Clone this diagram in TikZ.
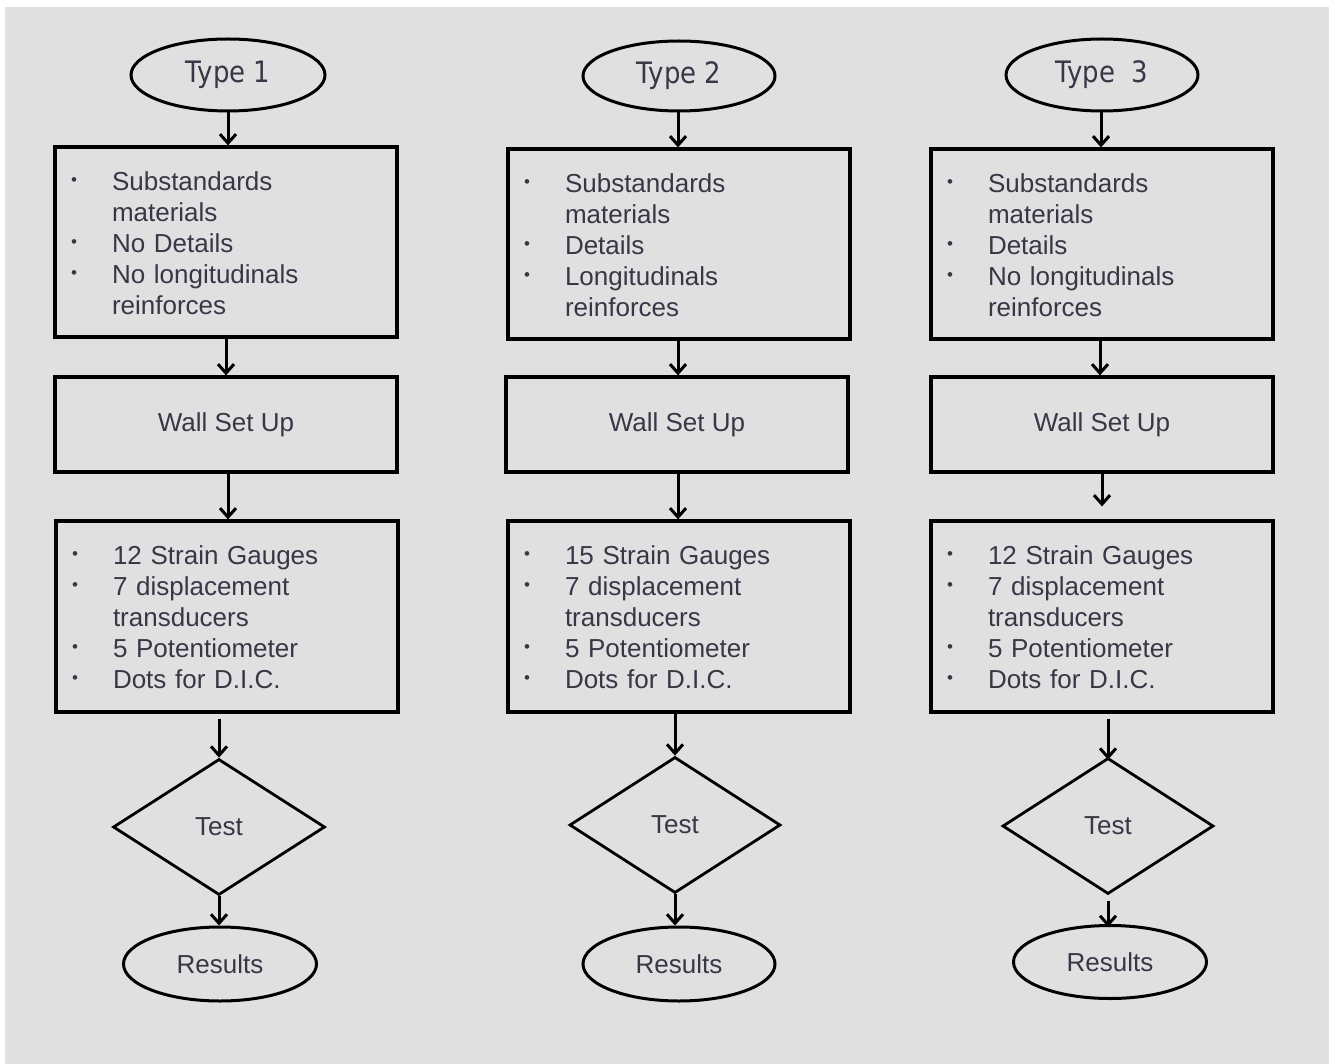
\documentclass[tikz,border=0pt]{standalone}
\usepackage{fontspec}
\setmainfont{Liberation Sans}
\newfontfamily\titlefont[FakeStretch=0.88]{DejaVu Sans}
\usetikzlibrary{shapes.geometric,arrows.meta}
\definecolor{bggray}{RGB}{224,224,224}
\definecolor{txtgray}{RGB}{55,55,70}
\newcommand{\bul}{\raisebox{5pt}{\fontsize{17}{17}\selectfont\textbullet}}
\newcommand{\firstrow}{\rule{0pt}{29.7pt}}
\tikzset{
  start/.style={ellipse,draw,line width=3pt,minimum width=194pt,minimum height=72pt,inner sep=0pt,
    font=\titlefont\fontsize{29.5}{34}\selectfont},
  stop/.style={ellipse,draw,line width=3pt,minimum width=193pt,minimum height=74pt,inner sep=0pt},
  listbox/.style={rectangle,draw,line width=3.2pt,minimum width=342pt,minimum height=190pt,
    text width=310pt,inner xsep=15pt,align=left},
  setbox/.style={rectangle,draw,line width=3.2pt,minimum width=342pt,minimum height=95pt},
  decide/.style={diamond,draw,line width=2.8pt,minimum width=212pt,minimum height=136pt,inner sep=0pt},
  flow/.style={line width=3pt,-{Straight Barb[length=9pt,width=16pt]}}
}
\begin{document}
\begin{tikzpicture}[x=1pt,y=-1pt,text=txtgray,font=\fontsize{26}{31}\selectfont]
\useasboundingbox (0,0) rectangle (1335,1064);
\fill[white] (0,0) rectangle (1335,1064);
\fill[bggray] (5,7) rectangle (1329,1064);
% column 1
\node[start] (t1) at (228,75) {Type 1};
\node[listbox] (b1) at (226,242) {\begin{tabular}{@{}p{41pt}@{}l@{}}
  \bul & \firstrow Substandards\\ & materials\\ \bul & No Details\\ \bul & No longitudinals\\ & reinforces
  \end{tabular}};
\node[setbox] (w1) at (226,424.5) {Wall Set Up};
\node[listbox,minimum height=191pt] (i1) at (227,616.5) {\begin{tabular}{@{}p{41pt}@{}l@{}}
  \bul & \firstrow 12 Strain Gauges\\ \bul & 7 displacement\\ & transducers\\ \bul & 5 Potentiometer\\ \bul & Dots for D.I.C.
  \end{tabular}};
\node[decide] (d1) at (219,827) {Test};
\node[stop] (r1) at (220,964) {Results};
\draw[flow] (t1.south) -- (t1.south |- b1.north);
\draw[flow] (b1.south) -- (w1.north);
\draw[flow] ([xshift=2pt]w1.south) -- ([xshift=2pt]w1.south |- i1.north);
\draw[flow] ([yshift=-5pt]d1.north |- i1.south) -- (d1.north);
\draw[flow] (d1.south) -- (d1.south |- r1.north);
% column 2
\node[start,minimum width=192pt,minimum height=70pt] (t2) at (679,76) {Type 2};
\node[listbox] (b2) at (679,244) {\begin{tabular}{@{}p{41pt}@{}l@{}}
  \bul & \firstrow Substandards\\ & materials\\ \bul & Details\\ \bul & Longitudinals\\ & reinforces
  \end{tabular}};
\node[setbox] (w2) at (677,424.5) {Wall Set Up};
\node[listbox,minimum height=191pt] (i2) at (679,616.5) {\begin{tabular}{@{}p{41pt}@{}l@{}}
  \bul & \firstrow 15 Strain Gauges\\ \bul & 7 displacement\\ & transducers\\ \bul & 5 Potentiometer\\ \bul & Dots for D.I.C.
  \end{tabular}};
\node[decide,minimum width=211pt] (d2) at (675,825) {Test};
\node[stop,minimum width=192pt] (r2) at (679,964) {Results};
\draw[flow] ([xshift=-1pt]t2.south) -- ([xshift=-1pt]t2.south |- b2.north);
\draw[flow] ([xshift=1pt]w2.north |- b2.south) -- ([xshift=1pt]w2.north);
\draw[flow] ([xshift=1pt]w2.south) -- ([xshift=1pt]w2.south |- i2.north);
\draw[flow] (d2.north |- i2.south) -- (d2.north);
\draw[flow] (d2.south) -- (d2.south |- r2.north);
% column 3
\node[start,minimum width=192pt] (t3) at (1102,75) {Type~~3};
\node[listbox] (b3) at (1102,244) {\begin{tabular}{@{}p{41pt}@{}l@{}}
  \bul & \firstrow Substandards\\ & materials\\ \bul & Details\\ \bul & No longitudinals\\ & reinforces
  \end{tabular}};
\node[setbox] (w3) at (1102,424.5) {Wall Set Up};
\node[listbox,minimum height=191pt] (i3) at (1102,616.5) {\begin{tabular}{@{}p{41pt}@{}l@{}}
  \bul & \firstrow 12 Strain Gauges\\ \bul & 7 displacement\\ & transducers\\ \bul & 5 Potentiometer\\ \bul & Dots for D.I.C.
  \end{tabular}};
\node[decide,minimum width=211pt] (d3) at (1108,826) {Test};
\node[stop,minimum height=73pt] (r3) at (1110,962) {Results};
\draw[flow] ([xshift=-1pt]t3.south) -- ([xshift=-1pt]t3.south |- b3.north);
\draw[flow] ([xshift=-2pt]b3.south) -- ([xshift=-2pt]w3.north);
\draw[flow] (w3.south) -- ([yshift=13pt]i3.north);
\draw[flow] ([yshift=-5pt]d3.north |- i3.south) -- ([yshift=-3pt]d3.north);
\draw[flow] ([yshift=-6pt]d3.south) -- ([yshift=-3pt]d3.south |- r3.north);
\end{tikzpicture}
\end{document}
